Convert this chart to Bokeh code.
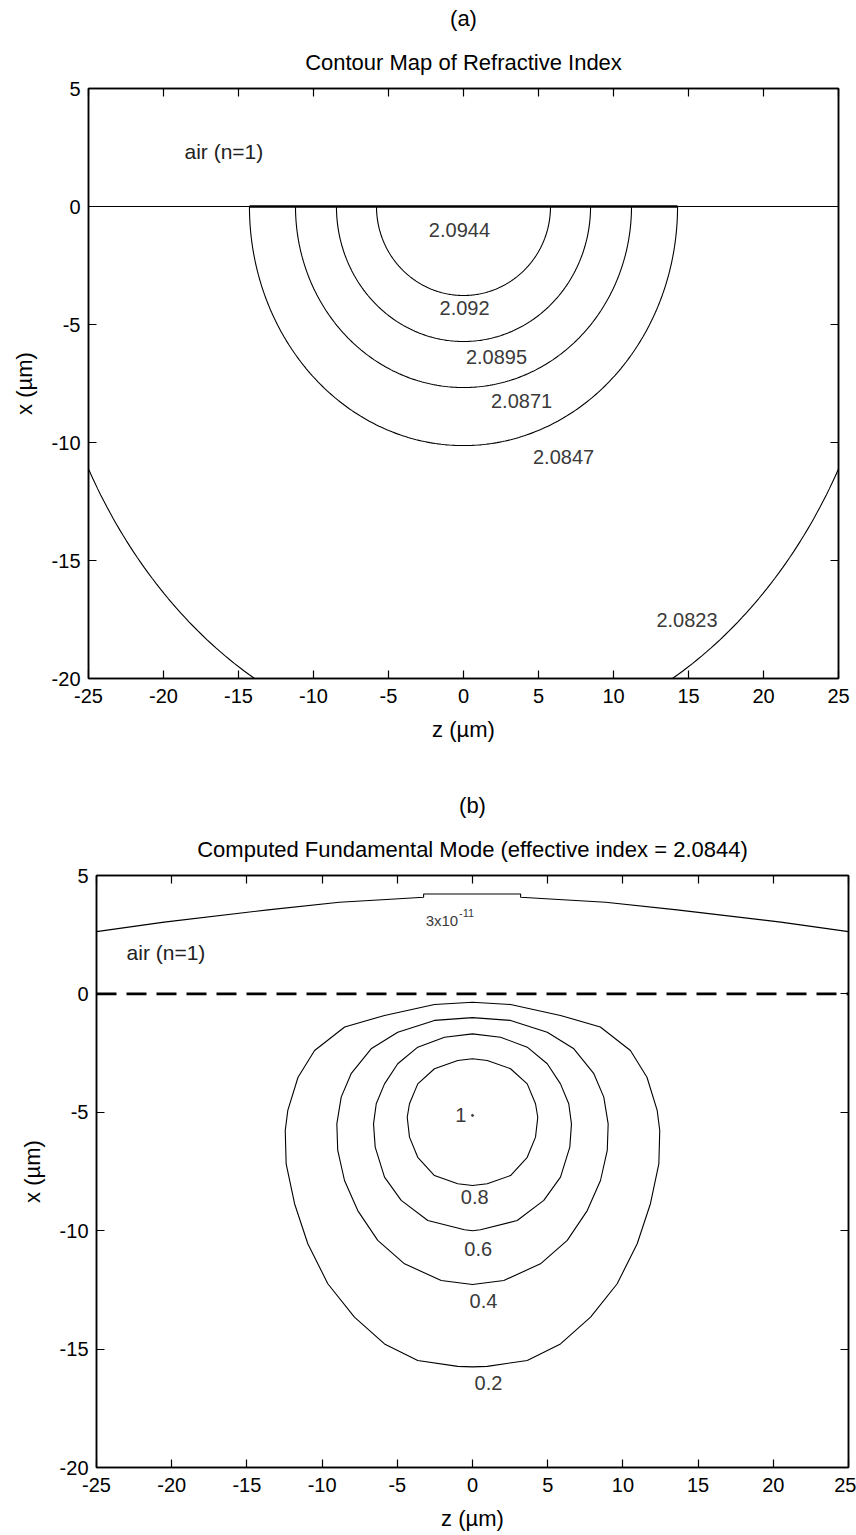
import numpy as np
from bokeh.plotting import figure
from bokeh.models import (LinearAxis, FixedTicker, Title, Range1d,
                          CustomJSTickFormatter, Spacer)
from bokeh.layouts import column, row
from bokeh.embed import file_html
from bokeh.resources import INLINE
from bokeh.core.properties import value

# ---------------- data ----------------
X_TICKS = [-25, -20, -15, -10, -5, 0, 5, 10, 15, 20, 25]
Y_TICKS = [-20, -15, -10, -5, 0, 5]

# (a) refractive index contours: semi-elliptical, centred at surface (z=0, x=0)
PEAK_INDEX = 2.0944
INDEX_LEVELS = [2.092, 2.0895, 2.0871, 2.0847, 2.0823]
INDEX_HALF_WIDTH = [5.8, 8.47, 11.2, 14.27, 28.6]    # z semi-axis (um)
INDEX_DEPTH = [3.77, 5.72, 7.67, 10.13, 22.9]         # x semi-axis (um)

# (b) mode contours: right halves (z >= 0), top -> bottom
MODE_LEVELS = [0.8, 0.6, 0.4, 0.2]
Z_08 = [0, 0.98, 2.53, 3.64, 4.19, 4.34, 4.19, 3.64, 2.53, 0.98, 0]
X_08 = [-2.74, -2.81, -3.16, -3.8, -4.64, -5.21, -6.05, -6.9, -7.67, -8.02, -8.09]
Z_06 = [0, 1.86, 3.64, 4.97, 5.85, 6.4, 6.58, 6.47, 5.85, 4.74, 2.97, 0.53, 0]
X_06 = [-1.69, -1.83, -2.25, -2.95, -3.8, -4.64, -5.49, -6.47, -7.74, -8.72, -9.57, -9.96, -10.0]
Z_04 = [0, 2.53, 4.97, 6.74, 8.07, 8.73, 9.02, 8.96, 8.51, 7.63, 6.3, 4.52, 2.08, 0]
X_04 = [-1.0, -1.12, -1.62, -2.32, -3.37, -4.36, -5.49, -6.61, -7.88, -9.15, -10.41, -11.4, -12.1, -12.27]
Z_02 = [0, 2.53, 5.85, 8.5, 10.5, 11.6, 12.28, 12.45, 12.39, 11.83, 10.95, 9.62, 7.85, 5.85, 3.64, 0.98, 0]
X_02 = [-0.35, -0.45, -0.91, -1.4, -2.39, -3.52, -4.92, -5.77, -7.18, -8.86, -10.55, -12.24, -13.65, -14.78, -15.48, -15.73, -15.75]
MODE_PEAK = 1
MODE_PEAK_Z = 0.0
MODE_PEAK_X = -5.13

# evanescent tail contour in air (level 3x10^-11)
TAIL_MANTISSA = 3
TAIL_EXPONENT = -11
TAIL_Z = [-25, -20.5, -13.6, -8.85, -5.45, -3.25, -3.25, 3.2, 3.2, 5.45, 8.85, 13.6, 20.5, 25]
TAIL_X = [2.63, 3.03, 3.55, 3.87, 4.0, 4.08, 4.22, 4.22, 4.08, 4.0, 3.87, 3.55, 3.03, 2.63]

# label placements (data coords)
A_LABEL_Z = [-0.27, 0.07, 2.2, 3.87, 6.67, 14.9]
A_LABEL_X = [-1.0, -4.32, -6.36, -8.26, -10.6, -17.54]
B_LABEL_Z = [0.15, 0.38, 0.73, 1.06]
B_LABEL_X = [-8.58, -10.76, -12.95, -16.45]

FONT = "Liberation Sans"
TICK_PX = "20px"
LABEL_GRAY = "#3a3a3a"


def make_panel(width, height, left, right, top, bottom, tag, title_text):
    p = figure(width=width, height=height, x_range=Range1d(-25, 25),
               y_range=Range1d(-20, 5), output_backend="svg",
               toolbar_location=None, tools="", title=None,
               min_border_left=left, min_border_right=right,
               min_border_top=top, min_border_bottom=bottom)
    p.grid.visible = False
    p.outline_line_color = "black"
    p.outline_line_width = 1.5
    p.background_fill_color = "white"
    p.border_fill_color = "white"

    for ax in (p.xaxis[0], p.yaxis[0]):
        ax.major_tick_in = 8
        ax.major_tick_out = 0
        ax.minor_tick_in = 0
        ax.minor_tick_out = 0
        ax.axis_line_width = 1.5
        ax.major_tick_line_width = 1.2
        ax.major_label_text_font = FONT
        ax.major_label_text_font_size = TICK_PX
        ax.major_label_text_color = "black"
        ax.axis_label_text_font = FONT
        ax.axis_label_text_font_size = "22px"
        ax.axis_label_text_font_style = "normal"
        ax.axis_label_text_color = "black"
    p.xaxis[0].ticker = FixedTicker(ticks=X_TICKS)
    p.yaxis[0].ticker = FixedTicker(ticks=Y_TICKS)
    p.xaxis[0].major_label_overrides = {t: str(t) for t in X_TICKS}
    p.yaxis[0].major_label_overrides = {t: str(t) for t in Y_TICKS}
    p.xaxis[0].axis_label = "z (\u00b5m)"
    p.yaxis[0].axis_label = "x (\u00b5m)"
    p.xaxis[0].major_label_standoff = 10
    p.yaxis[0].major_label_standoff = 8
    p.xaxis[0].axis_label_standoff = 11
    p.yaxis[0].axis_label_standoff = 12

    blank = CustomJSTickFormatter(code="return ''")
    common = dict(formatter=blank, major_tick_in=8, major_tick_out=0,
                  minor_tick_in=0, minor_tick_out=0, major_label_standoff=0,
                  axis_label_standoff=0, axis_line_width=1.5,
                  major_tick_line_width=1.2, major_label_text_font_size="0px")
    top_ax = LinearAxis(ticker=FixedTicker(ticks=X_TICKS), **common)
    right_ax = LinearAxis(ticker=FixedTicker(ticks=Y_TICKS), **common)
    p.add_layout(top_ax, "above")
    p.add_layout(right_ax, "right")
    p.add_layout(Title(text=title_text, align="center", text_font=FONT,
                       text_font_size="22px", text_font_style="normal",
                       text_color="black", standoff=28), "above")
    p.add_layout(Title(text=tag, align="center", text_font=FONT,
                       text_font_size="22px", text_font_style="normal",
                       text_color="black", standoff=6), "above")
    return p


# ---------------- panel (a) ----------------
pa = make_panel(856, 760, 88, 18, 88, 82, "(a)",
                "Contour Map of Refractive Index")
theta = np.linspace(0.0, np.pi, 241)
xs = [list(a * np.cos(theta)) for a in INDEX_HALF_WIDTH]
ys = [list(-b * np.sin(theta)) for b in INDEX_DEPTH]
pa.multi_line(xs=xs, ys=ys, line_color="black", line_width=1.1)
# air / substrate interface
pa.line(x=[-25, 25], y=[0, 0], line_color="black", line_width=1.1)
wmax = max(a for a in INDEX_HALF_WIDTH if a < 25)
pa.line(x=[-wmax, wmax], y=[0, 0], line_color="black", line_width=2.6)
a_labels = ["%g" % v for v in [PEAK_INDEX] + INDEX_LEVELS]
pa.text(x=A_LABEL_Z, y=A_LABEL_X, text=a_labels, text_font=value(FONT),
        text_font_size=value("20px"), text_align="center",
        text_baseline="middle", text_color=LABEL_GRAY)
pa.text(x=[-18.6], y=[2.34], text=["air (n=1)"], text_font=value(FONT),
        text_font_size=value("21px"), text_align="left",
        text_baseline="middle", text_color="#222222")

# ---------------- panel (b) ----------------
pb = make_panel(847, 775, 87, 8, 115, 68, "(b)",
                "Computed Fundamental Mode (effective index = 2.0844)")
halves = [(Z_08, X_08), (Z_06, X_06), (Z_04, X_04), (Z_02, X_02)]
bxs, bys = [], []
for zz, xx in halves:
    bxs.append(list(zz) + [-z for z in reversed(zz)])
    bys.append(list(xx) + list(reversed(xx)))
pb.multi_line(xs=bxs, ys=bys, line_color="black", line_width=1.1)
pb.line(x=TAIL_Z, y=TAIL_X, line_color="black", line_width=1.1)
pb.line(x=[-25, 25], y=[0, 0], line_color="black", line_width=2.6,
        line_dash="20 10")
b_labels = ["%g" % v for v in MODE_LEVELS]
pb.text(x=B_LABEL_Z, y=B_LABEL_X, text=b_labels, text_font=value(FONT),
        text_font_size=value("20px"), text_align="center",
        text_baseline="middle", text_color=LABEL_GRAY)
pb.text(x=[MODE_PEAK_Z - 0.4], y=[MODE_PEAK_X], text=["%g" % MODE_PEAK],
        text_font=value(FONT), text_font_size=value("20px"),
        text_align="right", text_baseline="middle", text_color=LABEL_GRAY)
pb.scatter(x=[MODE_PEAK_Z], y=[MODE_PEAK_X], size=2, color=LABEL_GRAY)
pb.text(x=[-0.95], y=[3.1], text=["%dx10" % TAIL_MANTISSA],
        text_font=value(FONT), text_font_size=value("15px"),
        text_align="right", text_baseline="middle", text_color=LABEL_GRAY)
pb.text(x=[-0.9], y=[3.42], text=["%d" % TAIL_EXPONENT],
        text_font=value(FONT), text_font_size=value("11px"),
        text_align="left", text_baseline="middle", text_color=LABEL_GRAY)
pb.text(x=[-23.0], y=[1.75], text=["air (n=1)"], text_font=value(FONT),
        text_font_size=value("21px"), text_align="left",
        text_baseline="middle", text_color="#222222")

layout = column(pa, row(Spacer(width=9, height=775), pb, spacing=0), spacing=0)
open("out.html", "w").write(file_html(layout, INLINE))
